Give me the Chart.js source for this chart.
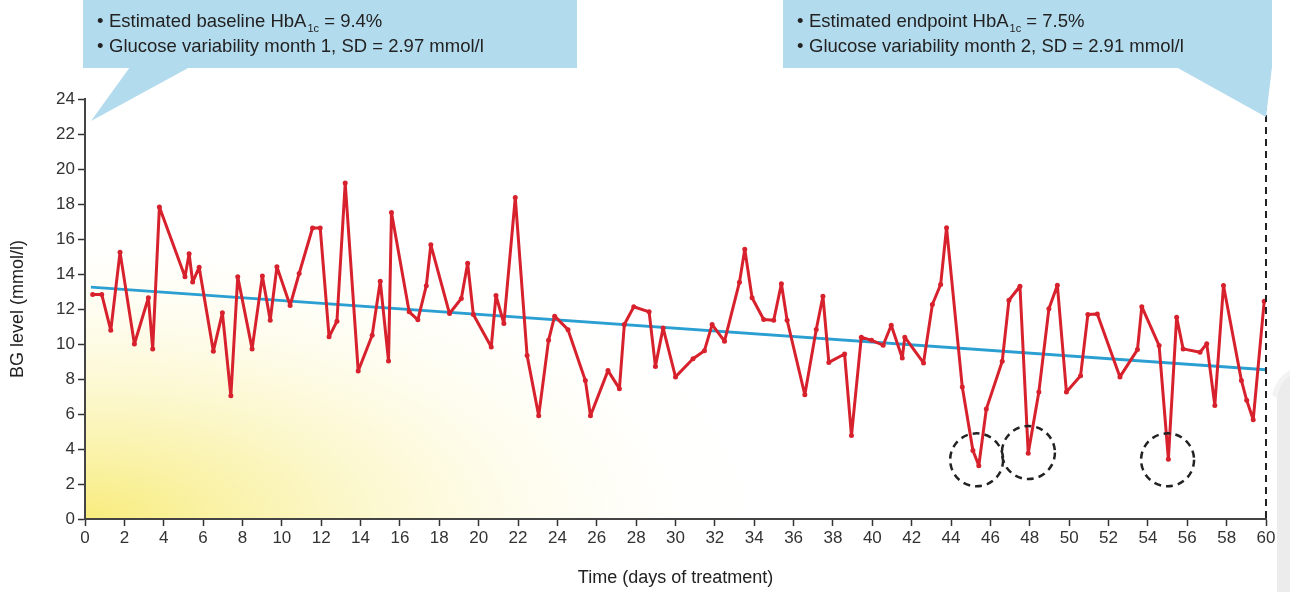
<!DOCTYPE html>
<html>
<head>
<meta charset="utf-8">
<script src="https://cdn.jsdelivr.net/npm/chart.js@4"></script>
<style>
  html, body { margin: 0; padding: 0; background: #fff; }
  #wrap { width: 1290px; height: 592px; position: relative; }
</style>
</head>
<body>
<div id="wrap"><canvas id="c" width="1290" height="592"></canvas></div>
<script>
// ---- data ----
const days = [0.39,0.85,1.31,1.78,2.51,3.22,3.44,3.78,5.08,5.29,5.47,5.80,6.52,6.98,7.41,7.76,8.49,9.01,9.41,9.75,
  10.42,10.88,11.56,11.95,12.40,12.80,13.22,13.88,14.59,15.0,15.42,15.57,16.47,16.91,17.34,17.57,18.52,19.12,19.44,19.73,
  20.64,20.88,21.28,21.86,22.46,23.05,23.55,23.86,24.54,25.42,25.68,26.57,27.15,27.40,27.88,28.66,28.98,29.37,30.0,30.89,
  31.47,31.86,32.49,33.25,33.52,33.89,34.48,34.99,35.38,35.67,36.57,37.15,37.49,37.79,38.59,38.94,39.44,39.96,40.55,40.96,
  41.52,41.65,42.60,43.05,43.47,43.77,44.57,45.11,45.41,45.79,46.60,46.94,47.50,47.92,48.46,48.97,49.40,49.86,50.58,50.95,
  51.43,52.58,53.47,53.69,54.57,55.04,55.46,55.79,56.65,56.99,57.40,57.84,58.75,59.02,59.35,59.91];
const bgLevel = [12.83,12.83,10.78,15.25,10.0,12.64,9.72,17.83,13.84,15.16,13.54,14.39,9.59,11.78,7.04,13.84,9.72,13.88,11.36,14.41,
  12.2,14.03,16.63,16.63,10.41,11.30,19.2,8.46,10.50,13.59,9.03,17.51,11.84,11.38,13.33,15.67,11.74,12.60,14.62,11.68,
  9.83,12.77,11.17,18.37,9.35,5.9,10.21,11.59,10.82,7.92,5.9,8.48,7.45,11.11,12.13,11.84,8.72,10.92,8.12,9.16,
  9.62,11.11,10.16,13.53,15.41,12.64,11.40,11.36,13.44,11.36,7.10,10.83,12.73,8.95,9.43,4.77,10.39,10.21,9.93,11.07,
  9.20,10.39,8.92,12.26,13.40,16.65,7.54,3.91,3.05,6.28,9.01,12.50,13.30,3.76,7.26,12.01,13.36,7.26,8.19,11.68,
  11.72,8.12,9.68,12.13,9.91,3.42,11.53,9.72,9.53,10.02,6.49,13.34,7.92,6.78,5.67,12.45];
const trendDays = [0.3, 60];
const trendValues = [13.25, 8.53];
const hypoDays = [45.3, 47.93, 55.0];
const hypoValues = [3.38, 3.80, 3.38];
const endpointDay = 60;
const yTicks = [0,2,4,6,8,10,12,14,16,18,20,22,24];
const xTicks = [];
for (let d = 0; d <= 60; d += 2) xTicks.push(d);
const callout1 = ["Estimated baseline HbA", "1c", " = 9.4%", "Glucose variability month 1, SD = 2.97 mmol/l"];
const callout2 = ["Estimated endpoint HbA", "1c", " = 7.5%", "Glucose variability month 2, SD = 2.91 mmol/l"];

const FONT = "'Liberation Sans', Arial, sans-serif";

const bgPlugin = {
  id: 'bgPlugin',
  beforeDraw(chart) {
    const ctx = chart.ctx, a = chart.chartArea;
    ctx.save();
    ctx.fillStyle = '#ffffff';
    ctx.fillRect(0, 0, chart.width, chart.height);
    // faint grey shape at the right edge
    ctx.fillStyle = '#ececec';
    ctx.beginPath();
    ctx.moveTo(1277, 592);
    ctx.lineTo(1277, 398);
    ctx.quadraticCurveTo(1279, 381, 1290, 376);
    ctx.lineTo(1290, 592);
    ctx.closePath();
    ctx.fill();
    ctx.fillStyle = '#f3f3f3';
    ctx.beginPath();
    ctx.moveTo(1272, 395);
    ctx.quadraticCurveTo(1276, 378, 1290, 370);
    ctx.lineTo(1290, 376);
    ctx.quadraticCurveTo(1279, 381, 1277, 398);
    ctx.closePath();
    ctx.fill();
    // yellow glow at bottom-left
    ctx.beginPath();
    ctx.rect(a.left, a.top, a.right - a.left, a.bottom - a.top);
    ctx.clip();
    ctx.translate(a.left, a.bottom);
    ctx.scale(1, 0.45);
    const g = ctx.createRadialGradient(0, 0, 0, 0, 0, 700);
    g.addColorStop(0, 'rgba(248,236,125,1)');
    g.addColorStop(0.3, 'rgba(250,243,175,0.85)');
    g.addColorStop(0.65, 'rgba(253,250,222,0.5)');
    g.addColorStop(1, 'rgba(255,255,255,0)');
    ctx.fillStyle = g;
    ctx.fillRect(0, -800, 800, 800);
    ctx.restore();
  }
};

const markPlugin = {
  id: 'markPlugin',
  afterDatasetsDraw(chart) {
    const ctx = chart.ctx, xs = chart.scales.x, ys = chart.scales.y;
    ctx.save();
    // endpoint dashed line
    ctx.strokeStyle = '#222';
    ctx.lineWidth = 2;
    ctx.setLineDash([7, 5]);
    const ex = xs.getPixelForValue(endpointDay);
    ctx.beginPath();
    ctx.moveTo(ex, ys.getPixelForValue(24) + 4);
    ctx.lineTo(ex, ys.getPixelForValue(0));
    ctx.stroke();
    // hypo circles
    ctx.lineWidth = 2.5;
    ctx.setLineDash([7, 5]);
    for (let i = 0; i < hypoDays.length; i++) {
      ctx.beginPath();
      ctx.arc(xs.getPixelForValue(hypoDays[i]), ys.getPixelForValue(hypoValues[i]), 26.5, 0, Math.PI * 2);
      ctx.stroke();
    }
    ctx.restore();
  },
  afterDraw(chart) {
    const ctx = chart.ctx, xs = chart.scales.x, ys = chart.scales.y;
    const boxFill = '#b3dbee';
    function box(x0, x1, tri, lines) {
      ctx.save();
      ctx.fillStyle = boxFill;
      ctx.fillRect(x0, 0, x1 - x0, 68);
      ctx.beginPath();
      ctx.moveTo(tri[0][0], tri[0][1]);
      ctx.lineTo(tri[1][0], tri[1][1]);
      ctx.lineTo(tri[2][0], tri[2][1]);
      ctx.closePath();
      ctx.fill();
      ctx.fillStyle = '#222';
      ctx.textBaseline = 'alphabetic';
      ctx.textAlign = 'left';
      const tx = x0 + 14;
      ctx.font = '18.5px ' + FONT;
      ctx.fillText('\u2022', tx, 27);
      let cx = tx + 12;
      ctx.fillText(lines[0], cx, 27);
      cx += ctx.measureText(lines[0]).width;
      ctx.font = '11px ' + FONT;
      ctx.fillText(lines[1], cx + 1, 32);
      cx += ctx.measureText(lines[1]).width + 1;
      ctx.font = '18.5px ' + FONT;
      ctx.fillText(lines[2], cx, 27);
      ctx.fillText('\u2022', tx, 52);
      ctx.fillText(lines[3], tx + 12, 52);
      ctx.restore();
    }
    const yTop = ys.getPixelForValue(24);
    box(83, 577, [[130, 67], [190, 67], [xs.getPixelForValue(0) + 6, yTop + 22]], callout1);
    const ex = xs.getPixelForValue(endpointDay);
    box(783, 1272, [[1176, 67], [1272, 67], [ex, yTop + 18]], callout2);
  }
};

const points = days.map((d, i) => ({ x: d, y: bgLevel[i] }));
const trend = trendDays.map((d, i) => ({ x: d, y: trendValues[i] }));

new Chart(document.getElementById('c'), {
  type: 'scatter',
  data: {
    datasets: [
      {
        label: 'Trend',
        data: trend,
        showLine: true,
        borderColor: '#2b9fd2',
        borderWidth: 3,
        pointRadius: 0,
        order: 2
      },
      {
        label: 'BG',
        data: points,
        showLine: true,
        borderColor: '#d7212d',
        backgroundColor: '#d7212d',
        borderWidth: 3,
        borderJoinStyle: 'round',
        borderCapStyle: 'round',
        pointRadius: 2.5,
        pointBorderWidth: 0,
        tension: 0,
        order: 1
      }
    ]
  },
  options: {
    responsive: false,
    animation: false,
    events: [],
    layout: { padding: { left: 0, right: 24, top: 99, bottom: 0 } },
    plugins: { legend: { display: false }, tooltip: { enabled: false } },
    scales: {
      x: {
        type: 'linear',
        min: 0, max: 60,
        afterBuildTicks(s) { s.ticks = xTicks.map(v => ({ value: v })); },
        afterFit(s) { s.height = 73; },
        grid: { drawOnChartArea: false, drawTicks: true, tickLength: 7, tickColor: '#333', tickWidth: 1.5 },
        border: { display: true, color: '#444', width: 2 },
        ticks: { color: '#333', font: { family: FONT, size: 17 }, padding: 2, maxRotation: 0, autoSkip: false },
        title: { display: true, text: 'Time (days of treatment)', color: '#222', font: { family: FONT, size: 18 }, padding: { top: 0, bottom: 3 } }
      },
      y: {
        type: 'linear',
        min: 0, max: 24,
        afterBuildTicks(s) { s.ticks = yTicks.map(v => ({ value: v })); },
        afterFit(s) { s.width = 85; },
        grid: { drawOnChartArea: false, drawTicks: true, tickLength: 7, tickColor: '#333', tickWidth: 1.5 },
        border: { display: true, color: '#444', width: 2 },
        ticks: { color: '#333', font: { family: FONT, size: 17 }, padding: 3 },
        title: { display: true, text: 'BG level (mmol/l)', color: '#222', font: { family: FONT, size: 18 }, padding: { top: 7, bottom: 0 } }
      }
    }
  },
  plugins: [bgPlugin, markPlugin]
});
</script>
</body>
</html>
